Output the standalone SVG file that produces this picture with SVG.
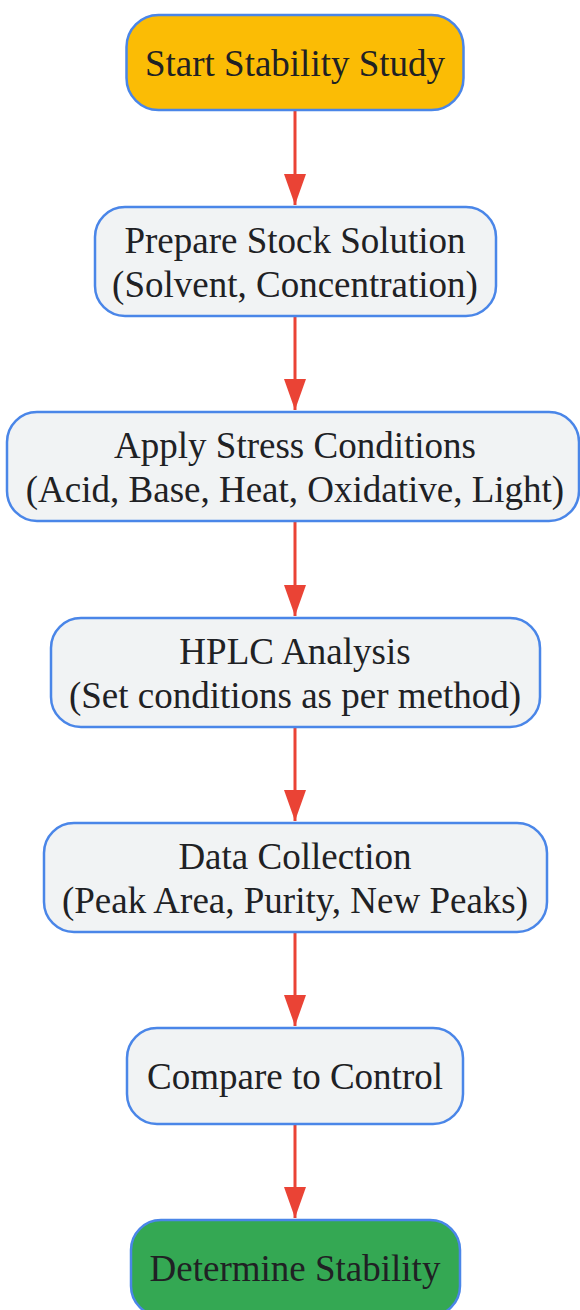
<svg xmlns="http://www.w3.org/2000/svg" width="580" height="1310" viewBox="0 0 580 1310">
<style>
.n{stroke:#4A86E8;stroke-width:2.5}
.g{fill:#F1F3F4}
.t{font-family:"Liberation Serif","Times New Roman",serif;font-size:37px;fill:#202124;text-anchor:middle}
.c{stroke:#EA4335;stroke-width:3;fill:none}
</style>
<defs>
<marker id="ah" markerUnits="userSpaceOnUse" markerWidth="31" markerHeight="22" refX="31" refY="11" orient="auto" viewBox="0 0 31 22">
<path d="M0,0 L31,11 L0,22 Z" fill="#EA4335"/>
</marker>
</defs>
<g id="connectors">
<line class="c" x1="295" y1="111" x2="295" y2="205" marker-end="url(#ah)"/>
<line class="c" x1="295" y1="317" x2="295" y2="410" marker-end="url(#ah)"/>
<line class="c" x1="295" y1="522" x2="295" y2="616" marker-end="url(#ah)"/>
<line class="c" x1="295" y1="728" x2="295" y2="821" marker-end="url(#ah)"/>
<line class="c" x1="295" y1="933" x2="295" y2="1026" marker-end="url(#ah)"/>
<line class="c" x1="295" y1="1125" x2="295" y2="1218" marker-end="url(#ah)"/>
</g>
<g id="start">
<rect class="n" x="126.5" y="15" width="337" height="95" rx="32" fill="#FBBC05"/>
<text class="t" x="295" y="76">Start Stability Study</text>
</g>
<g id="prepare">
<rect class="n g" x="95" y="207" width="401" height="109" rx="30"/>
<text class="t" x="295" y="253">Prepare Stock Solution</text>
<text class="t" x="295" y="297">(Solvent, Concentration)</text>
</g>
<g id="stress">
<rect class="n g" x="7" y="412" width="572" height="109" rx="30"/>
<text class="t" x="295" y="458">Apply Stress Conditions</text>
<text class="t" x="295" y="502">(Acid, Base, Heat, Oxidative, Light)</text>
</g>
<g id="hplc">
<rect class="n g" x="51" y="618" width="489" height="109" rx="30"/>
<text class="t" x="295" y="664">HPLC Analysis</text>
<text class="t" x="295" y="708">(Set conditions as per method)</text>
</g>
<g id="data">
<rect class="n g" x="44" y="823" width="503" height="109" rx="30"/>
<text class="t" x="295" y="869">Data Collection</text>
<text class="t" x="295" y="913">(Peak Area, Purity, New Peaks)</text>
</g>
<g id="compare">
<rect class="n g" x="127" y="1028" width="336" height="96" rx="30"/>
<text class="t" x="295" y="1089">Compare to Control</text>
</g>
<g id="determine">
<rect class="n" x="131" y="1220" width="329" height="96" rx="30" fill="#34A853"/>
<text class="t" x="295" y="1281">Determine Stability</text>
</g>
</svg>
